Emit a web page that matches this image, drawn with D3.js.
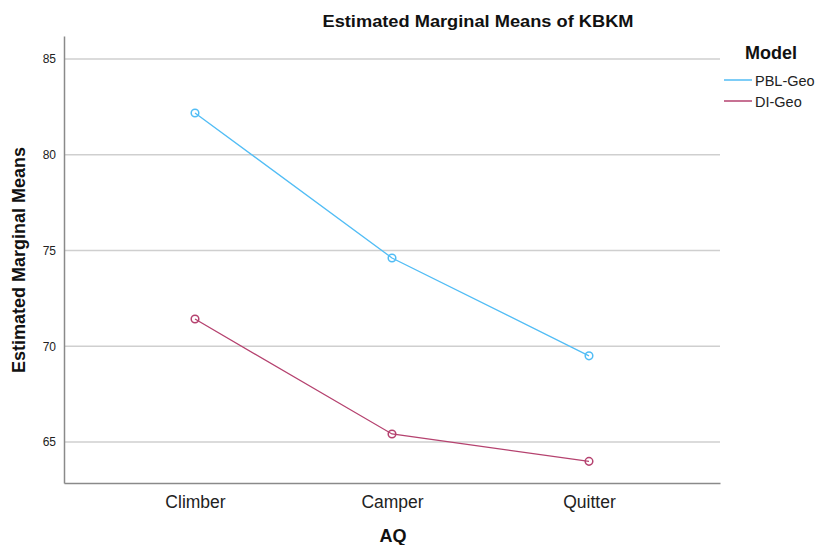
<!DOCTYPE html>
<html><head><meta charset="utf-8">
<script src="https://cdn.jsdelivr.net/npm/d3@7"></script>
<style>body{margin:0;background:#fff;}svg{display:block;font-family:Arial,"Liberation Sans",sans-serif;}</style>
</head><body>
<svg id="c" width="817" height="545"></svg>
<script>
const categories = ["Climber","Camper","Quitter"];
const seriesNames = ["PBL-Geo","DI-Geo"];
const pblValues = [82.18, 74.61, 69.50];
const diValues = [71.42, 65.42, 63.99];
const yTicks = [65,70,75,80,85];
const colors = ["#52bdf5","#b5426f"];

const svg = d3.select("#c");
const L=64, R=720, T=36, B=483;
const x = d3.scalePoint().domain(categories).range([L,R]).padding(0.665);
const y = d3.scaleLinear().domain([62.86,86.2]).range([B,T]);

svg.append("g").selectAll("line").data(yTicks).join("line")
  .attr("x1",L).attr("x2",R).attr("y1",d=>y(d)).attr("y2",d=>y(d))
  .attr("stroke","#cfcfcf").attr("stroke-width",1.5);

const ya = svg.append("g").attr("transform",`translate(${L},0)`)
  .call(d3.axisLeft(y).tickValues(yTicks).tickSize(0).tickPadding(8));
ya.select(".domain").attr("stroke","#8a8a8a").attr("stroke-width",1.5);
ya.selectAll("text").attr("font-size",12).attr("fill","#222").attr("font-family","Arial,'Liberation Sans',sans-serif");

const xa = svg.append("g").attr("transform",`translate(0,${B})`)
  .call(d3.axisBottom(x).tickSize(0).tickPadding(13));
xa.select(".domain").attr("stroke","#8a8a8a").attr("stroke-width",1.5);
xa.selectAll("text").attr("font-size",17.5).attr("fill","#222").attr("font-family","Arial,'Liberation Sans',sans-serif");

const series = [pblValues, diValues];
const line = d3.line().x((d,i)=>x(categories[i])).y(d=>y(d));
series.forEach((vals,si)=>{
  svg.append("path").datum(vals).attr("d",line).attr("fill","none")
    .attr("stroke",colors[si]).attr("stroke-width",1.3);
  svg.append("g").selectAll("circle").data(vals).join("circle")
    .attr("cx",(d,i)=>x(categories[i])).attr("cy",d=>y(d)).attr("r",3.8)
    .attr("fill","none").attr("stroke",colors[si]).attr("stroke-width",1.5);
});

svg.append("text").attr("x",478).attr("y",27).attr("text-anchor","middle")
  .attr("font-size",17).attr("font-weight","bold").attr("fill","#111")
  .attr("textLength",311).attr("lengthAdjust","spacingAndGlyphs")
  .text("Estimated Marginal Means of KBKM");
svg.append("text").attr("x",393).attr("y",542).attr("text-anchor","middle")
  .attr("font-size",18).attr("font-weight","bold").attr("fill","#111").text("AQ");
svg.append("text").attr("transform","translate(25,260) rotate(-90)").attr("text-anchor","middle")
  .attr("font-size",18).attr("font-weight","bold").attr("fill","#111")
  .attr("textLength",226).attr("lengthAdjust","spacingAndGlyphs")
  .text("Estimated Marginal Means");

svg.append("text").attr("x",745).attr("y",59).attr("font-size",18).attr("font-weight","bold")
  .attr("fill","#111").text("Model");
const lg = svg.append("g").selectAll("g").data(seriesNames).join("g")
  .attr("transform",(d,i)=>`translate(724,${80+i*21})`);
lg.append("line").attr("x1",0).attr("x2",28).attr("stroke",(d,i)=>colors[i]).attr("stroke-width",1.5);
lg.append("text").attr("x",31).attr("y",5.5).attr("font-size",14.5).attr("fill","#222").text(d=>d);
</script>
</body></html>
